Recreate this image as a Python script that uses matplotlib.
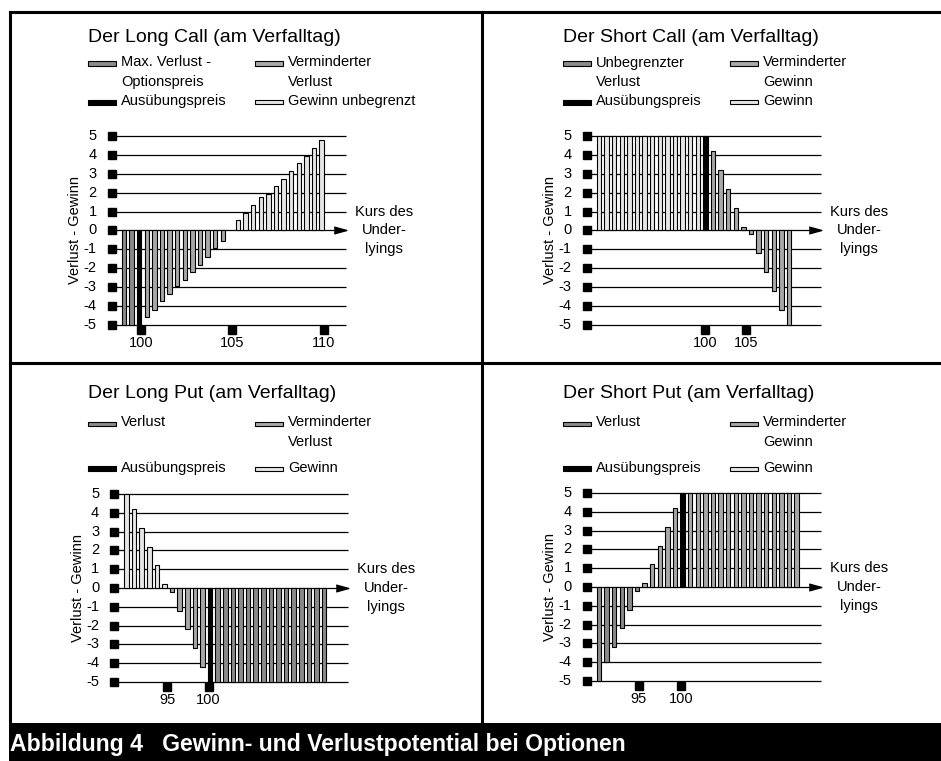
import matplotlib.pyplot as plt
from matplotlib.patches import Rectangle
from matplotlib.lines import Line2D

plt.rcParams['font.family'] = ['Liberation Sans', 'DejaVu Sans']

W, H = 941, 761

# profit/loss per price step, left to right
# colour code per bar: d = dark grey, m = mid grey, l = light grey, k = strike, - = none
long_call_vals = [-5, -5, -5, -4.6, -4.2, -3.75, -3.35, -2.95, -2.6, -2.2, -1.8, -1.4,
                  -0.95, -0.55, 0, 0.55, 0.95, 1.35, 1.75, 1.95, 2.35, 2.75, 3.15,
                  3.55, 3.95, 4.35, 4.8]
long_call_cols = "ddk" + "m" * 11 + "-" + "l" * 12
short_call_vals = [5] * 15 + [4.2, 3.2, 2.2, 1.2, 0.2, -0.2, -1.2, -2.2, -3.2, -4.2, -5]
short_call_cols = "l" * 14 + "k" + "m" * 11
long_put_vals = [5, 4.2, 3.2, 2.2, 1.2, 0.2, -0.2, -1.2, -2.2, -3.2, -4.2] + [-5] * 16
long_put_cols = "l" * 6 + "m" * 5 + "k" + "d" * 15
short_put_vals = [-5, -4, -3.2, -2.2, -1.2, -0.2, 0.2, 1.2, 2.2, 3.2, 4.2] + [5] * 16
short_put_cols = "d" * 6 + "m" * 5 + "k" + "m" * 15

# price marks (position in bar steps) and their labels
long_call_ticks = [2.25, 14.25, 26.3]
long_call_labels = ["100", "105", "110"]
short_call_ticks = [14.0, 19.4]
short_call_labels = ["100", "105"]
long_put_ticks = [5.35, 10.8]
long_put_labels = ["95", "100"]
short_put_ticks = [5.25, 10.75]
short_put_labels = ["95", "100"]

titles = ["Der Long Call (am Verfalltag)", "Der Short Call (am Verfalltag)",
          "Der Long Put (am Verfalltag)", "Der Short Put (am Verfalltag)"]
legends = [
    [("Max. Verlust -\nOptionspreis", "d"), ("Verminderter\nVerlust", "m"),
     ("Ausübungspreis", "k"), ("Gewinn unbegrenzt", "l")],
    [("Unbegrenzter\nVerlust", "d"), ("Verminderter\nGewinn", "m"),
     ("Ausübungspreis", "k"), ("Gewinn", "l")],
    [("Verlust", "d"), ("Verminderter\nVerlust", "m"),
     ("Ausübungspreis", "k"), ("Gewinn", "l")],
    [("Verlust", "d"), ("Verminderter\nGewinn", "m"),
     ("Ausübungspreis", "k"), ("Gewinn", "l")],
]

colors = {"d": "#8a8a8a", "m": "#a8a8a8", "l": "#e6e6e6", "k": "black"}

fig = plt.figure(figsize=(W / 100, H / 100), dpi=100)


def fx(x):
    return x / W


def fy(y):
    return 1 - y / H


def draw_panel(vals, cols, ticks, labels, title, legend,
               bx, y5, ym5, tx, t_base, r1_base, r2_base):
    step = 7.6
    x0 = bx - 2.2 * step
    x1 = bx + 29.4 * step
    ax = fig.add_axes([fx(x0), fy(ym5), (x1 - x0) / W, (ym5 - y5) / H])
    ax.set_xlim(-2.2, 29.4)
    ax.set_ylim(-5, 5)
    ax.axis('off')

    levels = list(range(-5, 6))
    ax.hlines(levels, -1.6, 29.2, color='black', lw=0.9, zorder=1, clip_on=False)
    ax.plot([-1.62] * len(levels), levels, 's', ms=5.5, color='black',
            clip_on=False, zorder=4)
    for v in levels:
        ax.text(-3.6, v, str(v), ha='right', va='center', fontsize=10.5)

    xs = [i for i, c in enumerate(cols) if c != '-']
    ax.bar(xs, [vals[i] for i in xs], width=0.6,
           color=[colors[cols[i]] for i in xs], edgecolor='black', lw=0.8,
           zorder=3, clip_on=False)

    ax.plot([28.4], [0], marker=[(-1, -0.55), (1, 0), (-1, 0.55)], ms=9,
            color='black', clip_on=False, zorder=4)
    ax.plot(ticks, [-5.24] * len(ticks), 's', ms=5.5, color='black',
            clip_on=False, zorder=4)
    for t, lab in zip(ticks, labels):
        ax.text(t, -5.95, lab, ha='center', va='center', fontsize=10.5)

    ax.text(-6.4, 0, "Verlust - Gewinn", rotation=90, ha='center',
            va='center', fontsize=10.5)
    ax.text(34.2, 0, "Kurs des\nUnder-\nlyings", ha='center', va='center',
            multialignment='center', fontsize=10.5, linespacing=1.45)

    fig.text(fx(tx), fy(t_base), title, fontsize=14, va='baseline')

    # legend: two columns, two rows
    for k, (lab, c) in enumerate(legend):
        col, row = k % 2, k // 2
        px = tx + col * 167
        base = r1_base if row == 0 else r2_base
        h = 5 if c == 'k' else 4
        fig.add_artist(Rectangle((fx(px), fy(base - 3 + h / 2)), 28 / W, h / H,
                                 transform=fig.transFigure, facecolor=colors[c],
                                 edgecolor='black', lw=0.8))
        for j, line in enumerate(lab.split("\n")):
            fig.text(fx(px + 33), fy(base + j * 19.5), line, fontsize=10.5,
                     va='baseline')


draw_panel(long_call_vals, long_call_cols, long_call_ticks, long_call_labels,
           titles[0], legends[0], 124, 136, 325, 88, 41.5, 66.5, 105)
draw_panel(short_call_vals, short_call_cols, short_call_ticks, short_call_labels,
           titles[1], legends[1], 599, 136, 325, 563, 41.5, 66.5, 105)
draw_panel(long_put_vals, long_put_cols, long_put_ticks, long_put_labels,
           titles[2], legends[2], 126.5, 494, 682, 88, 398, 426.5, 471.5)
draw_panel(short_put_vals, short_put_cols, short_put_ticks, short_put_labels,
           titles[3], legends[3], 599, 493, 681, 563, 398, 426.5, 471.5)

# frame lines
lw = 2.2
fig.add_artist(Line2D([fx(10), 1], [fy(12), fy(12)], color='black', lw=lw))
fig.add_artist(Line2D([fx(10), fx(10)], [fy(12), fy(723)], color='black', lw=lw))
fig.add_artist(Line2D([fx(482), fx(482)], [fy(12), fy(723)], color='black', lw=lw))
fig.add_artist(Line2D([fx(10), 1], [fy(363), fy(363)], color='black', lw=lw))

# caption banner
fig.add_artist(Rectangle((fx(9), 0), 1 - fx(9), 38 / H, transform=fig.transFigure,
                         facecolor='black', edgecolor='none'))
fig.text(fx(10), fy(751), "Abbildung 4   Gewinn- und Verlustpotential bei Optionen",
         color='white', fontsize=16.6, fontweight='bold', va='baseline')

fig.savefig("out.png", dpi=100)
